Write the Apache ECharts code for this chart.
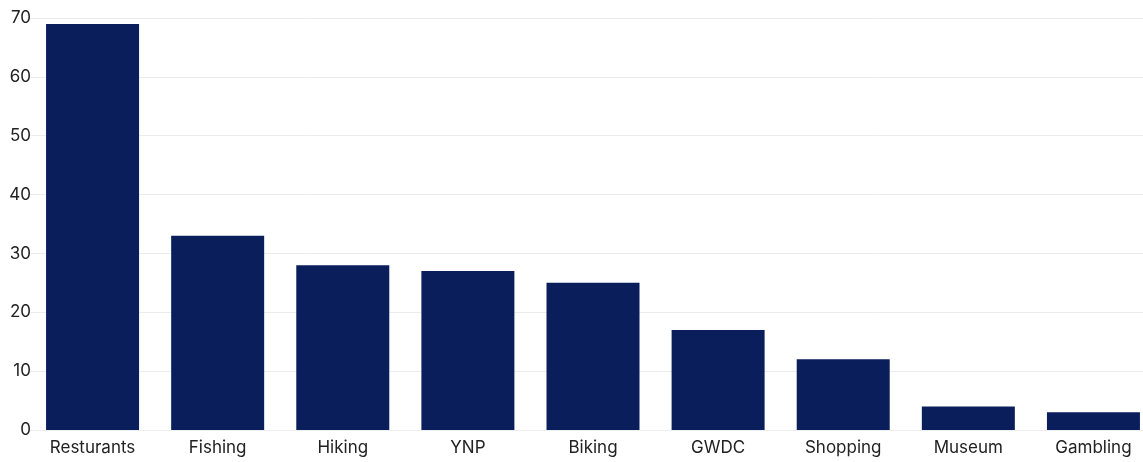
<!DOCTYPE html>
<html>
<head>
<meta charset="utf-8">
<script src="https://cdn.jsdelivr.net/npm/echarts@6/dist/echarts.min.js"></script>
<style>
html,body{margin:0;padding:0;background:#fff;overflow:hidden;width:1143px;height:462px;}
#chart{width:1160px;height:462px;}
</style>
</head>
<body>
<div id="chart"></div>
<script>
const categories = ["Resturants", "Fishing", "Hiking", "YNP", "Biking", "GWDC", "Shopping", "Museum", "Gambling"];
const values = [69, 33, 28, 27, 25, 17, 12, 4, 3];
const yTicks = { min: 0, max: 70, interval: 10 };

const chart = echarts.init(document.getElementById('chart'));
chart.setOption({
  animation: false,
  backgroundColor: '#ffffff',
  grid: { left: 30, right: 4, top: 18, bottom: 32 },
  xAxis: {
    type: 'category',
    data: categories,
    axisLine: { show: true, lineStyle: { color: '#eeeeee' } },
    axisTick: { show: false },
    axisLabel: { color: '#222222', fontSize: 17, fontFamily: 'Inter, Lato, sans-serif', margin: 9 }
  },
  yAxis: {
    type: 'value',
    min: yTicks.min, max: yTicks.max, interval: yTicks.interval,
    axisLine: { show: false },
    axisTick: { show: false },
    splitLine: { lineStyle: { color: '#ececec', width: 1 } },
    axisLabel: { color: '#222222', fontSize: 17, fontFamily: 'Inter, Lato, sans-serif', margin: -1 }
  },
  series: [{
    type: 'bar',
    data: values,
    barWidth: 93,
    itemStyle: { color: '#0a1e5c' }
  }]
});
</script>
</body>
</html>
